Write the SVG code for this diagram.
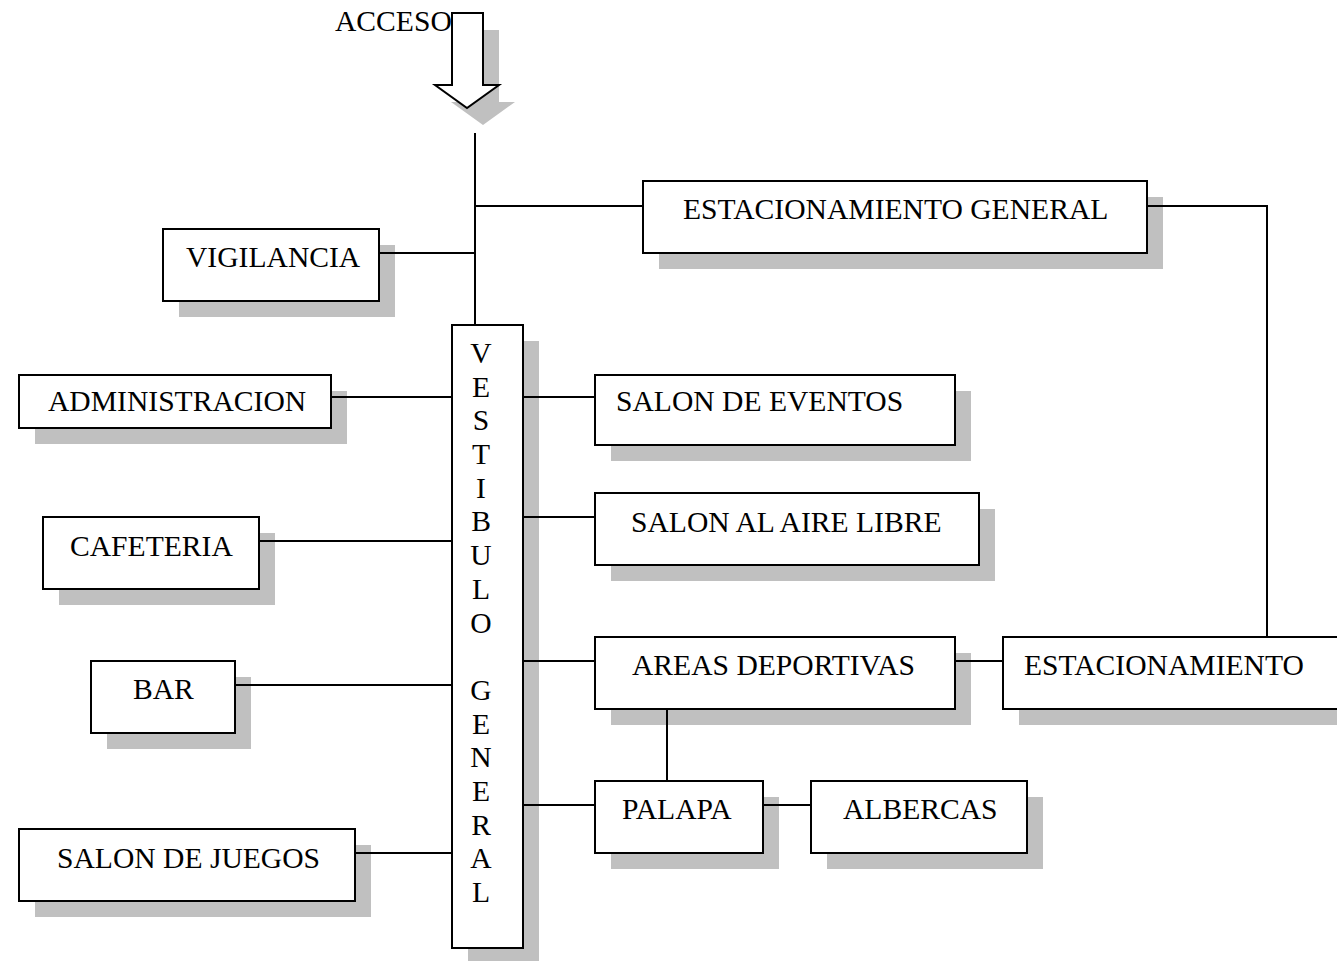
<svg xmlns="http://www.w3.org/2000/svg" width="1337" height="961" viewBox="0 0 1337 961">
  <style>
    .box { fill: #ffffff; stroke: #000000; stroke-width: 2; }
    .shadow { fill: #c0c0c0; stroke: none; }
    .lbl { font-family: "Liberation Serif", "Times New Roman", serif; font-size: 29.6px; fill: #000000; }
    .vlbl { font-family: "Liberation Serif", "Times New Roman", serif; font-size: 29.6px; fill: #000000; text-anchor: middle; }
    .wire { fill: none; stroke: #000000; stroke-width: 2; }
  </style>
  <rect width="1337" height="961" fill="#ffffff"/>

  <!-- entrance arrow -->
  <g id="acceso">
    <polygon class="shadow" points="468,30 499,30 499,102 515,102 483,125 451,102 468,102"/>
    <polygon class="box" points="452,13 483,13 483,85 499,85 467,108 435,85 452,85"/>
    <text class="lbl" x="335" y="31">ACCESO</text>
  </g>

  <g id="vigilancia">
    <rect class="shadow" x="179" y="245" width="216" height="72"/>
    <rect class="box" x="163" y="229" width="216" height="72"/>
    <text class="lbl" x="186" y="267">VIGILANCIA</text>
  </g>

  <g id="estacionamiento-general">
    <rect class="shadow" x="659" y="197" width="504" height="72"/>
    <rect class="box" x="643" y="181" width="504" height="72"/>
    <text class="lbl" x="683" y="219">ESTACIONAMIENTO GENERAL</text>
  </g>

  <g id="vestibulo-general">
    <rect class="shadow" x="468" y="341" width="71" height="623"/>
    <rect class="box" x="452" y="325" width="71" height="623"/>
    <text class="vlbl" x="481" y="363">V</text>
    <text class="vlbl" x="481" y="397">E</text>
    <text class="vlbl" x="481" y="430">S</text>
    <text class="vlbl" x="481" y="464">T</text>
    <text class="vlbl" x="481" y="498">I</text>
    <text class="vlbl" x="481" y="531">B</text>
    <text class="vlbl" x="481" y="565">U</text>
    <text class="vlbl" x="481" y="599">L</text>
    <text class="vlbl" x="481" y="633">O</text>
    <text class="vlbl" x="481" y="700">G</text>
    <text class="vlbl" x="481" y="734">E</text>
    <text class="vlbl" x="481" y="767">N</text>
    <text class="vlbl" x="481" y="801">E</text>
    <text class="vlbl" x="481" y="835">R</text>
    <text class="vlbl" x="481" y="868">A</text>
    <text class="vlbl" x="481" y="902">L</text>
  </g>

  <g id="administracion">
    <rect class="shadow" x="35" y="391" width="312" height="53"/>
    <rect class="box" x="19" y="375" width="312" height="53"/>
    <text class="lbl" x="48" y="411">ADMINISTRACION</text>
  </g>

  <g id="cafeteria">
    <rect class="shadow" x="59" y="533" width="216" height="72"/>
    <rect class="box" x="43" y="517" width="216" height="72"/>
    <text class="lbl" x="70" y="556">CAFETERIA</text>
  </g>

  <g id="bar">
    <rect class="shadow" x="107" y="677" width="144" height="72"/>
    <rect class="box" x="91" y="661" width="144" height="72"/>
    <text class="lbl" x="133" y="699">BAR</text>
  </g>

  <g id="salon-de-juegos">
    <rect class="shadow" x="35" y="845" width="336" height="72"/>
    <rect class="box" x="19" y="829" width="336" height="72"/>
    <text class="lbl" x="57" y="868">SALON DE JUEGOS</text>
  </g>

  <g id="salon-de-eventos">
    <rect class="shadow" x="611" y="391" width="360" height="70"/>
    <rect class="box" x="595" y="375" width="360" height="70"/>
    <text class="lbl" x="616" y="411">SALON DE EVENTOS</text>
  </g>

  <g id="salon-al-aire-libre">
    <rect class="shadow" x="611" y="509" width="384" height="72"/>
    <rect class="box" x="595" y="493" width="384" height="72"/>
    <text class="lbl" x="631" y="532">SALON AL AIRE LIBRE</text>
  </g>

  <g id="areas-deportivas">
    <rect class="shadow" x="611" y="653" width="360" height="72"/>
    <rect class="box" x="595" y="637" width="360" height="72"/>
    <text class="lbl" x="632" y="675">AREAS DEPORTIVAS</text>
  </g>

  <g id="estacionamiento">
    <rect class="shadow" x="1019" y="653" width="340" height="72"/>
    <rect class="box" x="1003" y="637" width="350" height="72"/>
    <text class="lbl" x="1024" y="675">ESTACIONAMIENTO</text>
  </g>

  <g id="palapa">
    <rect class="shadow" x="611" y="797" width="168" height="72"/>
    <rect class="box" x="595" y="781" width="168" height="72"/>
    <text class="lbl" x="622" y="819">PALAPA</text>
  </g>

  <g id="albercas">
    <rect class="shadow" x="827" y="797" width="216" height="72"/>
    <rect class="box" x="811" y="781" width="216" height="72"/>
    <text class="lbl" x="843" y="819">ALBERCAS</text>
  </g>

  <!-- connectors, drawn last so they run over the drop shadows -->
  <g id="connectors">
    <line class="wire" x1="475" y1="133" x2="475" y2="325"/>
    <line class="wire" x1="475" y1="206" x2="643" y2="206"/>
    <line class="wire" x1="379" y1="253" x2="475" y2="253"/>
    <polyline class="wire" points="1147,206 1267,206 1267,637"/>
    <line class="wire" x1="331" y1="397" x2="452" y2="397"/>
    <line class="wire" x1="259" y1="541" x2="452" y2="541"/>
    <line class="wire" x1="235" y1="685" x2="452" y2="685"/>
    <line class="wire" x1="355" y1="853" x2="452" y2="853"/>
    <line class="wire" x1="523" y1="397" x2="595" y2="397"/>
    <line class="wire" x1="523" y1="517" x2="595" y2="517"/>
    <line class="wire" x1="523" y1="661" x2="595" y2="661"/>
    <line class="wire" x1="523" y1="805" x2="595" y2="805"/>
    <line class="wire" x1="955" y1="661" x2="1003" y2="661"/>
    <line class="wire" x1="667" y1="709" x2="667" y2="781"/>
    <line class="wire" x1="763" y1="805" x2="811" y2="805"/>
  </g>
</svg>
